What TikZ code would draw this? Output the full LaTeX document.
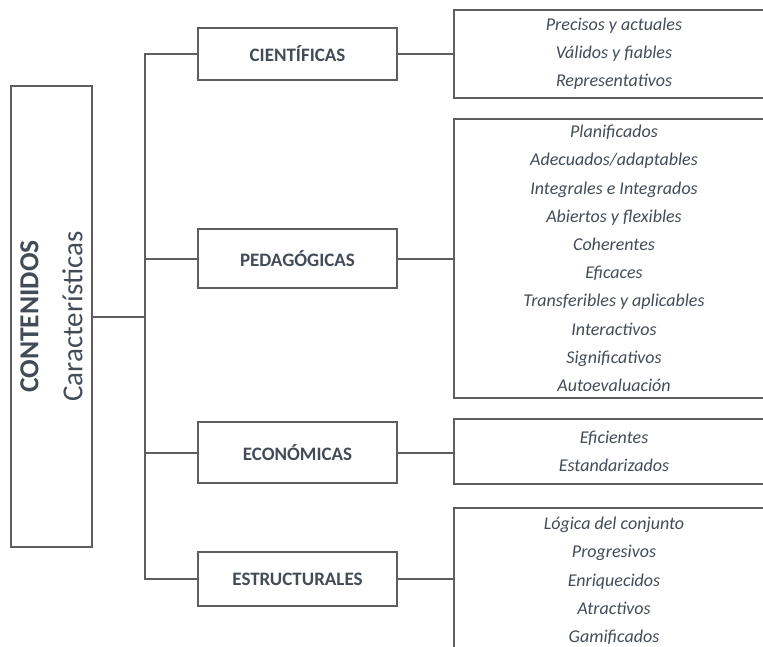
\documentclass[tikz,border=0pt]{standalone}
\usepackage{fontspec}
\setmainfont{Carlito}
\definecolor{linegray}{HTML}{5E5E5E}
\definecolor{txtgray}{HTML}{434B57}

\begin{document}
\begin{tikzpicture}[x=1pt,y=-1pt,
    box/.style={draw=linegray,line width=2pt,inner sep=0pt,text=txtgray},
    midbox/.style={box,minimum width=199pt,font=\fontsize{19}{22}\selectfont\bfseries},
    listbox/.style={box,minimum width=320pt,align=center,font=\fontsize{18}{28.2}\selectfont\itshape},
    link/.style={draw=linegray,line width=2pt}]
    \useasboundingbox (0,0) rectangle (763,647);
    \clip (0,0) rectangle (763,647);

    \node[box,rotate=90,minimum width=461pt,minimum height=81pt,align=center,font=\fontsize{27.5}{31}\selectfont] (cont) at (51.5,316.5) {\textbf{CONTENIDOS}\\[13pt]\fontsize{29}{31}\selectfont Características};
    \coordinate (trunk) at (145,0);

    \node[midbox,minimum height=52pt] (cien) at (297.5,54) {CIENTÍFICAS};
    \node[midbox,minimum height=59pt] (peda) at (297.5,258.5) {PEDAGÓGICAS};
    \node[midbox,minimum height=61pt] (econ) at (297.5,452.5) {ECONÓMICAS};
    \node[midbox,minimum height=54pt] (estr) at (297.5,579) {ESTRUCTURALES};

    \node[listbox,minimum height=88pt] (r1) at (614,54) {Precisos y actuales\\Válidos y fiables\\Representativos};
    \node[listbox,minimum height=279pt] (r2) at (614,258.5) {Planificados\\Adecuados/adaptables\\Integrales e Integrados\\Abiertos y flexibles\\Coherentes\\Eficaces\\Transferibles y aplicables\\Interactivos\\Significativos\\Autoevaluación};
    \node[listbox,minimum height=65pt] (r3) at (614,451.5) {Eficientes\\Estandarizados};
    \node[listbox,minimum height=146pt] (r4) at (614,581) {Lógica del conjunto\\Progresivos\\Enriquecidos\\Atractivos\\Gamificados};

    \draw[link] (cont.south) -- (cont.south -| trunk);
    \draw[link] (cien.west) -- (cien.west -| trunk) -- (estr.west -| trunk) -- (estr.west);
    \foreach \n in {peda,econ}
    \draw[link] (\n.west) -- (\n.west -| trunk);
    \foreach \n/\m in {cien/r1,peda/r2,econ/r3,estr/r4}
    \draw[link] (\n.east) -- (\n.east -| \m.west);

\end{tikzpicture}
\end{document}
